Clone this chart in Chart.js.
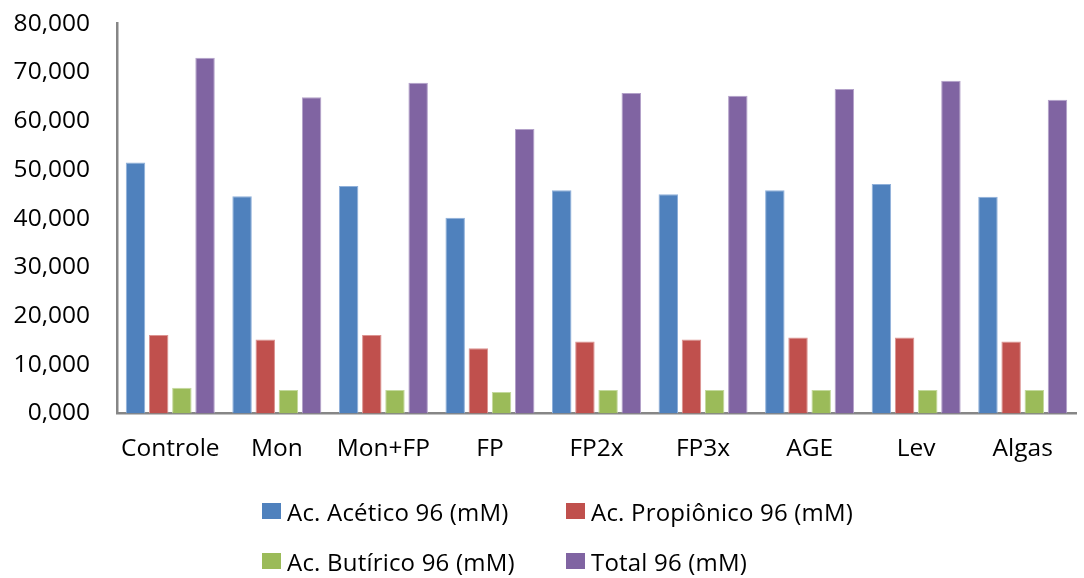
<!DOCTYPE html>
<html>
<head>
<meta charset="utf-8">
<script src="https://cdn.jsdelivr.net/npm/chart.js@4"></script>
<style>
  html, body { margin: 0; padding: 0; background: #fff; overflow: hidden; }
  #wrap { position: relative; width: 1084px; height: 578px; overflow: hidden; }
  #chartBox { position: absolute; left: 0; top: -18px; width: 1084px; height: 498px; }
  #legend { position: absolute; left: 0; top: 0; width: 1084px; height: 578px; pointer-events: none;
            font-family: "Open Sans", "Noto Sans", sans-serif; font-size: 24px; letter-spacing: 0.2px; color: #000; }
  .item { position: absolute; display: flex; align-items: center; white-space: nowrap; height: 34px; }
  .sw { width: 19px; height: 16px; margin-right: 6px; flex: none; }
</style>
</head>
<body>
<div id="wrap">
  <div id="chartBox"><canvas id="c"></canvas></div>
  <div id="legend"></div>
</div>
<script>
// Categories and measured concentrations (mM) after 96 h
const categories = ['Controle', 'Mon', 'Mon+FP', 'FP', 'FP2x', 'FP3x', 'AGE', 'Lev', 'Algas'];
const acetico    = [51.5, 44.6, 46.7, 40.2, 45.8, 45.0, 45.8, 47.1, 44.5];
const propionico = [16.1, 15.2, 16.1, 13.4, 14.8, 15.2, 15.6, 15.6, 14.8];
const butirico   = [5.3, 4.8, 4.8, 4.4, 4.8, 4.8, 4.8, 4.8, 4.8];
const total      = [73.0, 64.9, 67.9, 58.4, 65.8, 65.2, 66.6, 68.3, 64.4];
const seriesNames = ['Ac. Acético 96 (mM)', 'Ac. Propiônico 96 (mM)', 'Ac. Butírico 96 (mM)', 'Total 96 (mM)'];
const yMin = 0, yMax = 80, yStep = 10;

const colors = ['#4F81BD', '#C0504D', '#9BBB59', '#8064A2'];
const edges  = ['#8FB0DA', '#DC9391', '#C4D99E', '#B3A1C9'];
const values = [acetico, propionico, butirico, total];

const FONT = '"Open Sans", "Noto Sans", sans-serif';
const axisColor = '#868686';

const datasets = values.map((v, i) => ({
  label: seriesNames[i],
  data: v,
  backgroundColor: colors[i],
  borderColor: edges[i],
  borderWidth: 1,
  categoryPercentage: 0.87,
  barPercentage: 0.84
}));

// pt-BR style numbers: decimal comma, three decimals
const fmt = v => v.toFixed(3).replace('.', ',');

new Chart(document.getElementById('c'), {
  type: 'bar',
  data: { labels: categories, datasets },
  options: {
    responsive: true,
    maintainAspectRatio: false,
    animation: false,
    layout: { padding: { top: 3, right: 8, left: 0, bottom: 0 } },
    plugins: { legend: { display: false }, tooltip: { enabled: false } },
    scales: {
      x: {
        grid: { display: false, drawTicks: false },
        border: { display: true, color: axisColor, width: 2.5 },
        ticks: { color: '#000', font: { family: FONT, size: 24.5 }, padding: 21, maxRotation: 0 },
        afterFit: s => { s.height = 66.5; }
      },
      y: {
        min: yMin, max: yMax,
        grid: { display: false, drawTicks: false },
        border: { display: true, color: axisColor, width: 2.5 },
        ticks: { stepSize: yStep, color: '#000', font: { family: FONT, size: 24.5 }, padding: 27,
                 callback: v => fmt(v) },
        afterFit: s => { s.width = 117; }
      }
    }
  }
});

// Two-column legend under the plot
const legendPos = [[262, 511], [566, 511], [262, 561], [566, 561]];
const legend = document.getElementById('legend');
seriesNames.forEach((name, i) => {
  const it = document.createElement('div');
  it.className = 'item';
  it.style.left = legendPos[i][0] + 'px';
  it.style.top = (legendPos[i][1] - 17) + 'px';
  const sw = document.createElement('div');
  sw.className = 'sw';
  sw.style.background = colors[i];
  const tx = document.createElement('span');
  tx.textContent = name;
  it.appendChild(sw);
  it.appendChild(tx);
  legend.appendChild(it);
});
</script>
</body>
</html>
